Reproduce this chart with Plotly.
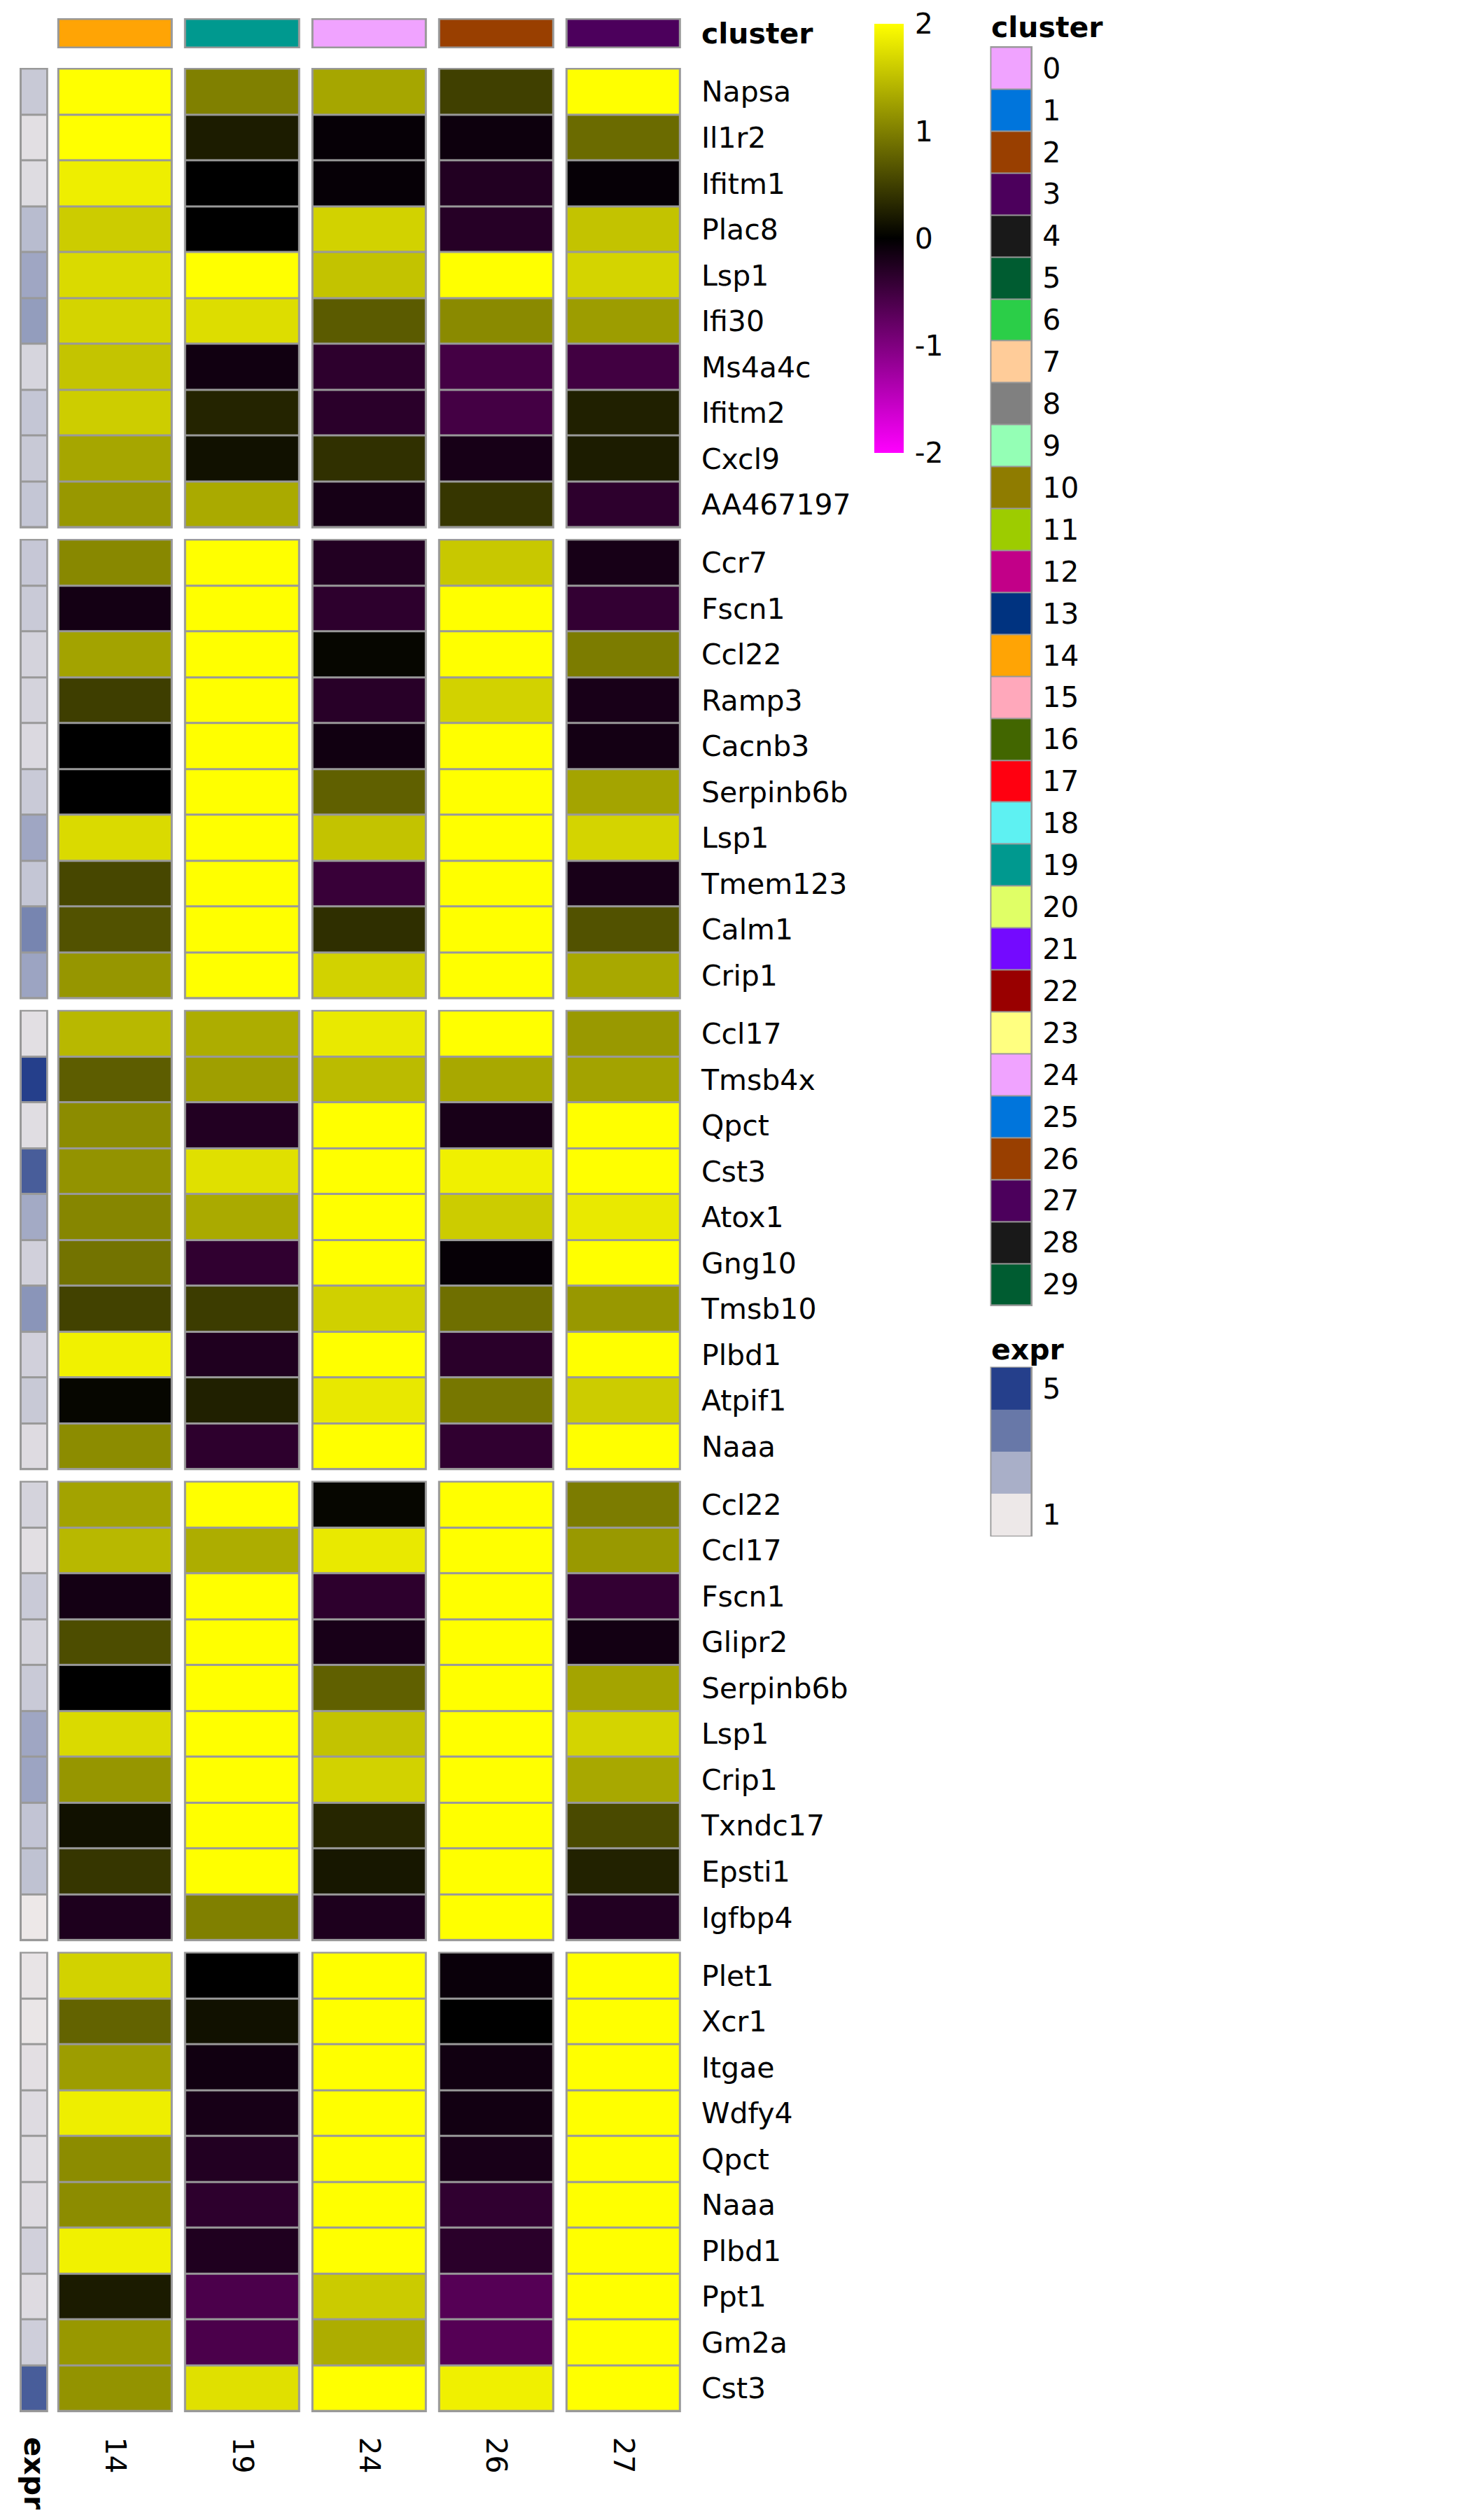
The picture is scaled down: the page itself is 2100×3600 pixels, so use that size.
import plotly.graph_objects as go

# page body adds an 8px margin; lay out in page pixels and compensate
OFF = 8
W, H = 2100 - OFF, 3600 - OFF

# ---------------- data ----------------
clusters = ["14", "19", "24", "26", "27"]
cluster_ids = [14, 19, 24, 26, 27]

palette = ["#F0A3FF", "#0075DC", "#993F00", "#4C005C", "#191919", "#005C31",
           "#2BCE48", "#FFCC99", "#808080", "#94FFB5", "#8F7C00", "#9DCC00",
           "#C20088", "#003380", "#FFA405", "#FFA8BB", "#426600", "#FF0010",
           "#5EF1F2", "#00998F", "#E0FF66", "#740AFF", "#990000", "#FFFF80",
           "#F0A3FF", "#0075DC", "#993F00", "#4C005C", "#191919", "#005C31"]
legend_clusters = [str(i) for i in range(30)]

genes_1 = ["Napsa", "Il1r2", "Ifitm1", "Plac8", "Lsp1", "Ifi30", "Ms4a4c", "Ifitm2", "Cxcl9", "AA467197"]
values_1 = [
    [2.0, 1.0, 1.3, 0.5, 2.0],
    [2.0, 0.22, -0.05, -0.1, 0.84],
    [1.87, 0.0, -0.05, -0.27, -0.05],
    [1.6, 0.0, 1.65, -0.3, 1.53],
    [1.71, 2.0, 1.53, 2.0, 1.66],
    [1.66, 1.73, 0.71, 1.08, 1.23],
    [1.54, -0.13, -0.35, -0.53, -0.51],
    [1.61, 0.28, -0.33, -0.53, 0.25],
    [1.3, 0.13, 0.38, -0.18, 0.22],
    [1.19, 1.33, -0.17, 0.42, -0.35],
]
expr_1 = [1.73, 1.22, 1.29, 2.04, 2.54, 2.78, 1.45, 1.8, 1.73, 1.8]

genes_2 = ["Ccr7", "Fscn1", "Ccl22", "Ramp3", "Cacnb3", "Serpinb6b", "Lsp1", "Tmem123", "Calm1", "Crip1"]
values_2 = [
    [1.07, 2.0, -0.27, 1.57, -0.18],
    [-0.16, 2.0, -0.35, 2.0, -0.4],
    [1.28, 2.0, 0.05, 2.0, 0.97],
    [0.49, 2.0, -0.31, 1.65, -0.19],
    [0.0, 2.0, -0.13, 2.0, -0.16],
    [0.0, 2.0, 0.75, 2.0, 1.29],
    [1.71, 2.0, 1.53, 2.0, 1.66],
    [0.56, 2.0, -0.44, 2.0, -0.19],
    [0.64, 2.0, 0.37, 2.0, 0.64],
    [1.18, 2.0, 1.65, 2.0, 1.32],
]
expr_2 = [1.77, 1.7, 1.5, 1.5, 1.35, 1.7, 2.54, 1.8, 3.35, 2.6]

genes_3 = ["Ccl17", "Tmsb4x", "Qpct", "Cst3", "Atox1", "Gng10", "Tmsb10", "Plbd1", "Atpif1", "Naaa"]
values_3 = [
    [1.44, 1.36, 1.83, 2.0, 1.2],
    [0.73, 1.25, 1.47, 1.32, 1.28],
    [1.1, -0.27, 2.0, -0.19, 2.0],
    [1.15, 1.76, 2.0, 1.88, 2.0],
    [1.05, 1.33, 2.0, 1.6, 1.83],
    [0.9, -0.38, 2.0, -0.05, 2.0],
    [0.52, 0.47, 1.63, 0.87, 1.19],
    [1.89, -0.24, 2.0, -0.33, 2.0],
    [0.05, 0.25, 1.82, 0.93, 1.6],
    [1.1, -0.35, 2.0, -0.38, 2.0],
]
expr_3 = [1.22, 5.0, 1.25, 4.3, 2.45, 1.55, 2.97, 1.55, 1.73, 1.3]

genes_4 = ["Ccl22", "Ccl17", "Fscn1", "Glipr2", "Serpinb6b", "Lsp1", "Crip1", "Txndc17", "Epsti1", "Igfbp4"]
values_4 = [
    [1.28, 2.0, 0.05, 2.0, 0.97],
    [1.44, 1.36, 1.83, 2.0, 1.2],
    [-0.16, 2.0, -0.35, 2.0, -0.4],
    [0.6, 2.0, -0.19, 2.0, -0.15],
    [0.0, 2.0, 0.75, 2.0, 1.29],
    [1.71, 2.0, 1.53, 2.0, 1.66],
    [1.18, 2.0, 1.65, 2.0, 1.32],
    [0.13, 2.0, 0.3, 2.0, 0.58],
    [0.42, 2.0, 0.18, 2.0, 0.27],
    [-0.23, 1.0, -0.23, 2.0, -0.27],
]
expr_4 = [1.5, 1.22, 1.7, 1.5, 1.7, 2.54, 2.6, 1.85, 1.9, 1.0]

genes_5 = ["Plet1", "Xcr1", "Itgae", "Wdfy4", "Qpct", "Naaa", "Plbd1", "Ppt1", "Gm2a", "Cst3"]
values_5 = [
    [1.65, 0.0, 2.0, -0.08, 2.0],
    [0.78, 0.13, 2.0, 0.0, 2.0],
    [1.23, -0.13, 2.0, -0.13, 2.0],
    [1.87, -0.18, 2.0, -0.14, 2.0],
    [1.1, -0.27, 2.0, -0.19, 2.0],
    [1.1, -0.35, 2.0, -0.38, 2.0],
    [1.89, -0.24, 2.0, -0.33, 2.0],
    [0.21, -0.59, 1.59, -0.67, 2.0],
    [1.19, -0.59, 1.36, -0.67, 2.0],
    [1.15, 1.76, 2.0, 1.88, 2.0],
]
expr_5 = [1.1, 1.05, 1.2, 1.3, 1.25, 1.3, 1.55, 1.3, 1.6, 4.3]

expr_legend_values = [5.0, 11 / 3, 7 / 3, 1.0]
expr_legend_labels = ["5", "", "", "1"]
colorbar_ticks = [-2, -1, 0, 1, 2]

blocks = [(genes_1, values_1, expr_1), (genes_2, values_2, expr_2),
          (genes_3, values_3, expr_3), (genes_4, values_4, expr_4),
          (genes_5, values_5, expr_5)]

# ---------------- styles ----------------
FONT = "DejaVu Sans"
FS = 41
BORDER = "#999999"
gray_scale = [[0, BORDER], [1, BORDER]]
main_scale = [[0, "#FF00FF"], [0.5, "#000000"], [1, "#FFFF00"]]
expr_scale = [[0, "#EDE8E8"], [1 / 3, "#A9AFC8"], [2 / 3, "#6878A8"], [1, "#253F8B"]]
n_pal = len(palette)
cluster_scale = []
for i, c in enumerate(palette):
    cluster_scale.append([i / n_pal, c])
    cluster_scale.append([(i + 1) / n_pal, c])


def px_x(p):
    return (p - OFF) / W


def px_y(p):
    return 1 - (p - OFF) / H


def ydom(top, bottom):
    return [px_y(bottom), px_y(top)]


def xdom(left, right):
    return [px_x(left), px_x(right)]


fig = go.Figure()
layout = dict(
    width=W, height=H, margin=dict(l=0, r=0, t=0, b=0),
    paper_bgcolor="white", plot_bgcolor="white",
    font=dict(family=FONT, size=FS, color="black"),
    showlegend=False,
)

ncol = len(clusters)
xcols = list(range(ncol))
hidden = dict(showgrid=False, zeroline=False, showline=False)
ROW_TL = 12

# data x axis / expr x axis
layout["xaxis"] = dict(domain=xdom(71, 981), range=[-0.5, ncol - 0.5], anchor="y6",
                       tickvals=xcols, ticktext=clusters, tickangle=90,
                       ticks="outside", ticklen=26, tickcolor="rgba(0,0,0,0)", **hidden)
layout["xaxis2"] = dict(domain=xdom(25, 66), range=[-0.5, 0.5], anchor="y6",
                        tickvals=[0], ticktext=["<b>expr</b>"], tickangle=90,
                        ticks="outside", ticklen=26, tickcolor="rgba(0,0,0,0)", **hidden)

# top cluster annotation
ann_top, ann_bot = 24, 67
ext_a = 2.5 / (ann_bot - ann_top - 5)
layout["yaxis"] = dict(domain=ydom(ann_top, ann_bot), range=[0.5 + ext_a, -0.5 - ext_a],
                       anchor="x", side="right", tickvals=[0], ticktext=["<b>cluster</b>"],
                       ticks="outside", ticklen=ROW_TL, tickcolor="rgba(0,0,0,0)", **hidden)
fig.add_trace(go.Heatmap(z=[[1] * ncol], x=xcols, y=[-0.5 - ext_a, 0.5 + ext_a], xgap=16,
                         colorscale=gray_scale, showscale=False, hoverinfo="skip",
                         xaxis="x", yaxis="y"))
fig.add_trace(go.Heatmap(z=[cluster_ids], x=xcols, y=[0], xgap=22,
                         colorscale=cluster_scale, zmin=-0.5, zmax=n_pal - 0.5,
                         showscale=False, xaxis="x", yaxis="y"))

# heatmap blocks
block_h = 659
cb_top, cb_bot = 32, 645
for k, (genes, vals, expr) in enumerate(blocks):
    top = 95 + k * 673.75
    bot = top + block_h
    n = len(genes)
    rowpx = (block_h - 3) / n
    e = 1.5 / rowpx
    yname = "y%d" % (k + 2)
    layout["yaxis%d" % (k + 2)] = dict(domain=ydom(top, bot), range=[n - 0.5 + e, -0.5 - e],
                                       anchor="x", side="right", tickvals=list(range(n)),
                                       ticktext=genes, ticks="outside", ticklen=ROW_TL,
                                       tickcolor="rgba(0,0,0,0)", **hidden)
    yrows = list(range(n))
    # border underlays
    fig.add_trace(go.Heatmap(z=[[1] * ncol], x=xcols, y=[-0.5 - e, n - 0.5 + e], xgap=16,
                             colorscale=gray_scale, showscale=False, hoverinfo="skip",
                             xaxis="x", yaxis=yname))
    fig.add_trace(go.Heatmap(z=[[1]], x=[0], y=[-0.5 - e, n - 0.5 + e],
                             colorscale=gray_scale, showscale=False, hoverinfo="skip",
                             xaxis="x2", yaxis=yname))
    # values
    cb = None
    if k == 0:
        cb = dict(x=px_x(1250), xanchor="left", y=px_y(cb_top), yanchor="top",
                  len=cb_bot - cb_top, lenmode="pixels", thickness=42, thicknessmode="pixels",
                  outlinewidth=0, xpad=0, ypad=0,
                  tickvals=colorbar_ticks, ticktext=[str(t) for t in colorbar_ticks],
                  ticks="outside", ticklen=8, tickcolor="rgba(0,0,0,0)",
                  tickfont=dict(size=FS, family=FONT))
    fig.add_trace(go.Heatmap(z=vals, x=xcols, y=yrows, xgap=22, ygap=3,
                             colorscale=main_scale, zmin=-2, zmax=2,
                             showscale=(k == 0), colorbar=cb,
                             customdata=[[g] * ncol for g in genes],
                             hovertemplate="%{customdata}<br>cluster %{x}<br>%{z}<extra></extra>",
                             xaxis="x", yaxis=yname))
    fig.add_trace(go.Heatmap(z=[[v] for v in expr], x=[0], y=yrows, xgap=6, ygap=3,
                             colorscale=expr_scale, zmin=1, zmax=5, showscale=False,
                             xaxis="x2", yaxis=yname))

# cluster legend
lg_top, lg_bot = 64, 1867
n_lg = len(palette)
e_lg = 1.5 / ((lg_bot - lg_top - 3) / n_lg)
layout["xaxis3"] = dict(domain=xdom(1416, 1477), range=[-0.5, 0.5], anchor="y7",
                        showticklabels=False, **hidden)
layout["yaxis7"] = dict(domain=ydom(lg_top, lg_bot), range=[n_lg - 0.5 + e_lg, -0.5 - e_lg],
                        anchor="x3", side="right", tickvals=list(range(n_lg)),
                        ticktext=legend_clusters, ticks="outside", ticklen=5,
                        tickcolor="rgba(0,0,0,0)", **hidden)
fig.add_trace(go.Heatmap(z=[[1]], x=[0], y=[-0.5 - e_lg, n_lg - 0.5 + e_lg],
                         colorscale=gray_scale, showscale=False, hoverinfo="skip",
                         xaxis="x3", yaxis="y7"))
fig.add_trace(go.Heatmap(z=[[i] for i in range(n_lg)], x=[0], y=list(range(n_lg)),
                         xgap=5, ygap=2, colorscale=cluster_scale, zmin=-0.5, zmax=n_pal - 0.5,
                         showscale=False, xaxis="x3", yaxis="y7"))

# expr legend
el_top, el_bot = 1953, 2196
n_el = len(expr_legend_values)
e_el = 1.5 / ((el_bot - el_top - 3) / n_el)
layout["xaxis4"] = dict(domain=xdom(1416, 1477), range=[-0.5, 0.5], anchor="y8",
                        showticklabels=False, **hidden)
layout["yaxis8"] = dict(domain=ydom(el_top, el_bot), range=[n_el - 0.5 + e_el, -0.5 - e_el],
                        anchor="x4", side="right", tickvals=list(range(n_el)),
                        ticktext=expr_legend_labels, ticks="outside", ticklen=5,
                        tickcolor="rgba(0,0,0,0)", **hidden)
fig.add_trace(go.Heatmap(z=[[1]], x=[0], y=[-0.5 - e_el, n_el - 0.5 + e_el],
                         colorscale=gray_scale, showscale=False, hoverinfo="skip",
                         xaxis="x4", yaxis="y8"))
fig.add_trace(go.Heatmap(z=[[v] for v in expr_legend_values], x=[0], y=list(range(n_el)),
                         xgap=5, ygap=0, colorscale=expr_scale, zmin=1, zmax=5,
                         showscale=False, xaxis="x4", yaxis="y8"))

layout["annotations"] = [
    dict(text="<b>cluster</b>", x=px_x(1416), y=px_y(37), xref="paper", yref="paper",
         xanchor="left", yanchor="middle", showarrow=False, font=dict(size=FS)),
    dict(text="<b>expr</b>", x=px_x(1416), y=px_y(1929), xref="paper", yref="paper",
         xanchor="left", yanchor="middle", showarrow=False, font=dict(size=FS)),
]

fig.update_layout(**layout)
fig.write_html("out.html")
